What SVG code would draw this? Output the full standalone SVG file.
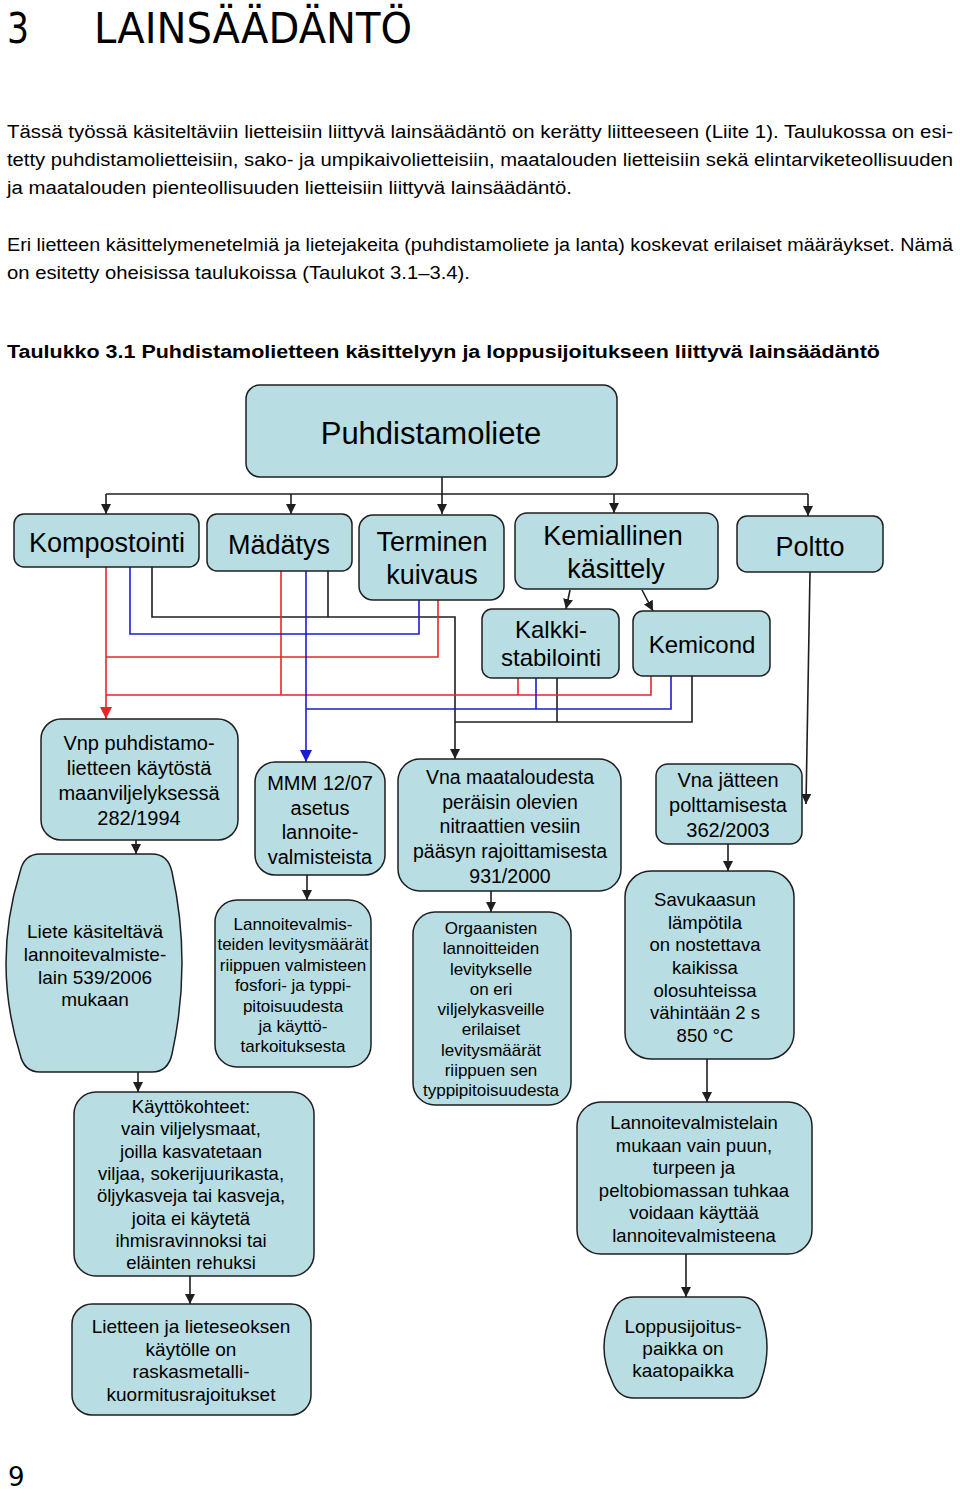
<svg xmlns="http://www.w3.org/2000/svg" width="960" height="1494" viewBox="0 0 960 1494">
<style>
.node{fill:#b8dde2;stroke:#1f1f1f;stroke-width:1.5}
.t{font-family:"Liberation Sans",Arial,sans-serif;fill:#000;text-anchor:middle}
.body{font-family:"Liberation Sans",Arial,sans-serif;font-size:18px;fill:#000}
.k{stroke:#1f1f1f;stroke-width:1.6;fill:none}
.r{stroke:#e8252b;stroke-width:1.6;fill:none}
.b{stroke:#1c1ccf;stroke-width:1.6;fill:none}
</style>
<defs>
<marker id="ak" viewBox="0 0 10 10" refX="10" refY="5" markerWidth="10" markerHeight="10" markerUnits="userSpaceOnUse" orient="auto"><path d="M0,0 L10,5 L0,10 z" fill="#1f1f1f"/></marker>
<marker id="ar" viewBox="0 0 10 10" refX="10" refY="5" markerWidth="12" markerHeight="12" markerUnits="userSpaceOnUse" orient="auto"><path d="M0,0 L10,5 L0,10 z" fill="#e8252b"/></marker>
<marker id="ab" viewBox="0 0 10 10" refX="10" refY="5" markerWidth="12" markerHeight="12" markerUnits="userSpaceOnUse" orient="auto"><path d="M0,0 L10,5 L0,10 z" fill="#1c1ccf"/></marker>
</defs>
<rect width="960" height="1494" fill="#fff"/>

<g id="page-text">
<text x="7" y="43" font-family="DejaVu Sans, Verdana, sans-serif" font-size="42" textLength="22" lengthAdjust="spacingAndGlyphs">3</text>
<text x="94" y="43" font-family="DejaVu Sans, Verdana, sans-serif" font-size="42" textLength="318" lengthAdjust="spacingAndGlyphs">LAINSÄÄDÄNTÖ</text>
<text class="body" x="7" y="138" textLength="946" lengthAdjust="spacingAndGlyphs">Tässä työssä käsiteltäviin lietteisiin liittyvä lainsäädäntö on kerätty liitteeseen (Liite 1). Taulukossa on esi-</text>
<text class="body" x="7" y="166" textLength="946" lengthAdjust="spacingAndGlyphs">tetty puhdistamolietteisiin, sako- ja umpikaivolietteisiin, maatalouden lietteisiin sekä elintarviketeollisuuden</text>
<text class="body" x="7" y="194" textLength="565" lengthAdjust="spacingAndGlyphs">ja maatalouden pienteollisuuden lietteisiin liittyvä lainsäädäntö.</text>
<text class="body" x="7" y="251" textLength="946" lengthAdjust="spacingAndGlyphs">Eri lietteen käsittelymenetelmiä ja lietejakeita (puhdistamoliete ja lanta) koskevat erilaiset määräykset. Nämä</text>
<text class="body" x="7" y="279" textLength="463" lengthAdjust="spacingAndGlyphs">on esitetty oheisissa taulukoissa (Taulukot 3.1–3.4).</text>
<text class="body" x="7" y="358" font-weight="bold" textLength="873" lengthAdjust="spacingAndGlyphs">Taulukko 3.1 Puhdistamolietteen käsittelyyn ja loppusijoitukseen liittyvä lainsäädäntö</text>
<text x="8" y="1486" font-family="DejaVu Sans, Verdana, sans-serif" font-size="26">9</text>
</g>

<g id="connectors">
<path class="k" d="M106,494 H808"/>
<path class="k" d="M442,477 V514" marker-end="url(#ak)"/>
<path class="k" d="M106,494 V514" marker-end="url(#ak)"/>
<path class="k" d="M291,494 V514" marker-end="url(#ak)"/>
<path class="k" d="M614,494 V513" marker-end="url(#ak)"/>
<path class="k" d="M808,494 V516" marker-end="url(#ak)"/>
<path class="k" d="M570,590 L566,609" marker-end="url(#ak)"/>
<path class="k" d="M642,590 L653,611" marker-end="url(#ak)"/>
<path class="k" d="M810,572 L806,804" marker-end="url(#ak)"/>
<path class="k" d="M152,567 V617 H455 V759" marker-end="url(#ak)"/>
<path class="k" d="M328,571 V617"/>
<path class="k" d="M557,678 V722"/>
<path class="k" d="M692,676 V722 H455"/>
<path class="r" d="M106,567 V719" marker-end="url(#ar)"/>
<path class="r" d="M438,600 V657 H106"/>
<path class="r" d="M281,571 V695"/>
<path class="r" d="M106,695 H651 V676"/>
<path class="r" d="M518,678 V695"/>
<path class="b" d="M130,567 V634 H419 V600"/>
<path class="b" d="M306,571 V762" marker-end="url(#ab)"/>
<path class="b" d="M306,709 H671 V676"/>
<path class="b" d="M536,678 V709"/>
<path class="k" d="M136,840 V854" marker-end="url(#ak)"/>
<path class="k" d="M138,1072 V1092" marker-end="url(#ak)"/>
<path class="k" d="M190,1276 V1304" marker-end="url(#ak)"/>
<path class="k" d="M307,875 V900" marker-end="url(#ak)"/>
<path class="k" d="M491,891 V912" marker-end="url(#ak)"/>
<path class="k" d="M728,844 V871" marker-end="url(#ak)"/>
<path class="k" d="M707,1059 V1102" marker-end="url(#ak)"/>
<path class="k" d="M686,1254 V1297" marker-end="url(#ak)"/>
</g>

<g id="puhdistamoliete">
<rect class="node" x="246" y="385" width="371" height="92" rx="14"/>
<text class="t" x="431" y="444" font-size="31">Puhdistamoliete</text>
</g>
<g id="kompostointi">
<rect class="node" x="14" y="514" width="185" height="53" rx="10"/>
<text class="t" x="107" y="552" font-size="27">Kompostointi</text>
</g>
<g id="madatys">
<rect class="node" x="207" y="514" width="145" height="57" rx="10"/>
<text class="t" x="279" y="554" font-size="27">Mädätys</text>
</g>
<g id="terminen">
<rect class="node" x="359" y="515" width="145" height="85" rx="14"/>
<text class="t" font-size="27"><tspan x="432" y="551">Terminen</tspan><tspan x="432" y="584">kuivaus</tspan></text>
</g>
<g id="kemiallinen">
<rect class="node" x="515" y="513" width="203" height="76" rx="12"/>
<text class="t" font-size="27"><tspan x="613" y="545">Kemiallinen</tspan><tspan x="616" y="578">käsittely</tspan></text>
</g>
<g id="poltto">
<rect class="node" x="737" y="516" width="146" height="56" rx="10"/>
<text class="t" x="810" y="556" font-size="27">Poltto</text>
</g>
<g id="kalkki">
<rect class="node" x="482" y="609" width="137" height="69" rx="10"/>
<text class="t" font-size="24"><tspan x="551" y="638">Kalkki-</tspan><tspan x="551" y="666">stabilointi</tspan></text>
</g>
<g id="kemicond">
<rect class="node" x="633" y="611" width="137" height="65" rx="10"/>
<text class="t" x="702" y="653" font-size="24">Kemicond</text>
</g>

<g id="vnp">
<rect class="node" x="41" y="719" width="197" height="121" rx="20"/>
<text class="t" font-size="20"><tspan x="139" y="750">Vnp puhdistamo-</tspan><tspan x="139" y="775">lietteen käytöstä</tspan><tspan x="139" y="800">maanviljelyksessä</tspan><tspan x="139" y="825">282/1994</tspan></text>
</g>
<g id="liete">
<path class="node" d="M40,854 H152 Q168,854 172,872 Q192,963 172,1054 Q168,1072 152,1072 H40 Q24,1072 20,1054 Q-8,963 20,872 Q24,854 40,854 Z"/>
<text class="t" font-size="19"><tspan x="95" y="938">Liete käsiteltävä</tspan><tspan x="95" y="961">lannoitevalmiste-</tspan><tspan x="95" y="984">lain 539/2006</tspan><tspan x="95" y="1006">mukaan</tspan></text>
</g>
<g id="kayttokohteet">
<rect class="node" x="74" y="1092" width="240" height="184" rx="22"/>
<text class="t" font-size="18.5"><tspan x="191" y="1113">Käyttökohteet:</tspan><tspan x="191" y="1135.3">vain viljelysmaat,</tspan><tspan x="191" y="1157.6">joilla kasvatetaan</tspan><tspan x="191" y="1179.9">viljaa, sokerijuurikasta,</tspan><tspan x="191" y="1202.2">öljykasveja tai kasveja,</tspan><tspan x="191" y="1224.5">joita ei käytetä</tspan><tspan x="191" y="1246.8">ihmisravinnoksi tai</tspan><tspan x="191" y="1269">eläinten rehuksi</tspan></text>
</g>
<g id="lietteen">
<rect class="node" x="72" y="1304" width="239" height="111" rx="20"/>
<text class="t" font-size="19"><tspan x="191" y="1333">Lietteen ja lieteseoksen</tspan><tspan x="191" y="1355.7">käytölle on</tspan><tspan x="191" y="1378.3">raskasmetalli-</tspan><tspan x="191" y="1401">kuormitusrajoitukset</tspan></text>
</g>
<g id="mmm">
<rect class="node" x="255" y="762" width="130" height="113" rx="20"/>
<text class="t" font-size="20"><tspan x="320" y="790">MMM 12/07</tspan><tspan x="320" y="815">asetus</tspan><tspan x="320" y="839">lannoite-</tspan><tspan x="320" y="864">valmisteista</tspan></text>
</g>
<g id="lannoitevalmis">
<rect class="node" x="215" y="900" width="156" height="167" rx="22"/>
<text class="t" font-size="17"><tspan x="293" y="930">Lannoitevalmis-</tspan><tspan x="293" y="950.4">teiden levitysmäärät</tspan><tspan x="293" y="970.8">riippuen valmisteen</tspan><tspan x="293" y="991.2">fosfori- ja typpi-</tspan><tspan x="293" y="1011.6">pitoisuudesta</tspan><tspan x="293" y="1032">ja käyttö-</tspan><tspan x="293" y="1052.4">tarkoituksesta</tspan></text>
</g>
<g id="vna-maatalous">
<rect class="node" x="398" y="759" width="223" height="132" rx="22"/>
<text class="t" font-size="19.5"><tspan x="510" y="784">Vna maataloudesta</tspan><tspan x="510" y="809">peräisin olevien</tspan><tspan x="510" y="833">nitraattien vesiin</tspan><tspan x="510" y="858">pääsyn rajoittamisesta</tspan><tspan x="510" y="883">931/2000</tspan></text>
</g>
<g id="orgaanisten">
<rect class="node" x="413" y="912" width="158" height="193" rx="22"/>
<text class="t" font-size="17"><tspan x="491" y="934">Orgaanisten</tspan><tspan x="491" y="954.25">lannoitteiden</tspan><tspan x="491" y="974.5">levitykselle</tspan><tspan x="491" y="994.75">on eri</tspan><tspan x="491" y="1015">viljelykasveille</tspan><tspan x="491" y="1035.25">erilaiset</tspan><tspan x="491" y="1055.5">levitysmäärät</tspan><tspan x="491" y="1075.75">riippuen sen</tspan><tspan x="491" y="1096">typpipitoisuudesta</tspan></text>
</g>
<g id="vna-jatteen">
<rect class="node" x="656" y="764" width="146" height="80" rx="12"/>
<text class="t" font-size="20"><tspan x="728" y="787">Vna jätteen</tspan><tspan x="728" y="812">polttamisesta</tspan><tspan x="728" y="837">362/2003</tspan></text>
</g>
<g id="savukaasun">
<rect class="node" x="625" y="871" width="169" height="188" rx="26"/>
<text class="t" font-size="18.5"><tspan x="705" y="906">Savukaasun</tspan><tspan x="705" y="928.7">lämpötila</tspan><tspan x="705" y="951.3">on nostettava</tspan><tspan x="705" y="974">kaikissa</tspan><tspan x="705" y="996.7">olosuhteissa</tspan><tspan x="705" y="1019.3">vähintään 2 s</tspan><tspan x="705" y="1042">850 °C</tspan></text>
</g>
<g id="lannoitevalmistelain">
<rect class="node" x="577" y="1102" width="235" height="152" rx="24"/>
<text class="t" font-size="18.5"><tspan x="694" y="1129">Lannoitevalmistelain</tspan><tspan x="694" y="1151.6">mukaan vain puun,</tspan><tspan x="694" y="1174.2">turpeen ja</tspan><tspan x="694" y="1196.8">peltobiomassan tuhkaa</tspan><tspan x="694" y="1219.4">voidaan käyttää</tspan><tspan x="694" y="1242">lannoitevalmisteena</tspan></text>
</g>
<g id="loppusijoitus">
<path class="node" d="M634,1297 H741 Q757,1297 761,1314 Q773,1347 761,1381 Q757,1398 741,1398 H634 Q618,1398 612,1381 Q596,1347 612,1314 Q618,1297 634,1297 Z"/>
<text class="t" font-size="19"><tspan x="683" y="1333">Loppusijoitus-</tspan><tspan x="683" y="1355">paikka on</tspan><tspan x="683" y="1377">kaatopaikka</tspan></text>
</g>
</svg>
